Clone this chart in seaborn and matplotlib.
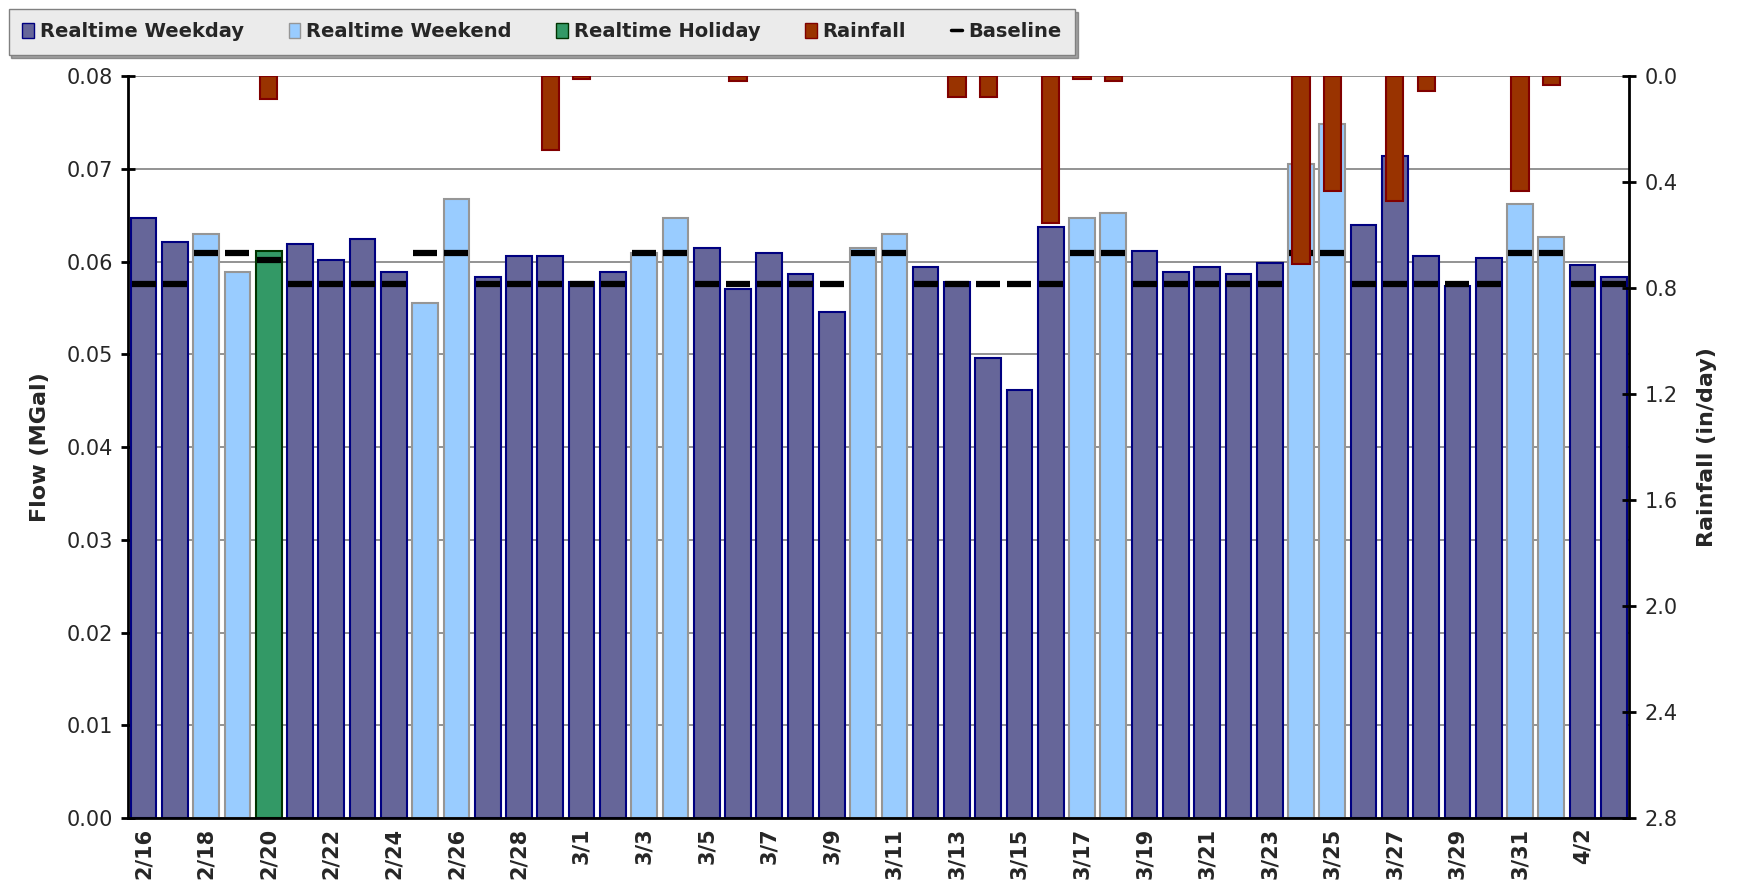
import matplotlib
matplotlib.use('Agg')
import matplotlib.pyplot as plt
import matplotlib.patches as mpatches
from matplotlib.lines import Line2D
import seaborn as sns
import numpy as np
import pandas as pd

# ---- data ----
dates = ['2/16', '2/17', '2/18', '2/19', '2/20', '2/21', '2/22', '2/23', '2/24',
         '2/25', '2/26', '2/27', '2/28', '2/29', '3/1', '3/2', '3/3', '3/4',
         '3/5', '3/6', '3/7', '3/8', '3/9', '3/10', '3/11', '3/12', '3/13',
         '3/14', '3/15', '3/16', '3/17', '3/18', '3/19', '3/20', '3/21', '3/22',
         '3/23', '3/24', '3/25', '3/26', '3/27', '3/28', '3/29', '3/30', '3/31',
         '4/1', '4/2', '4/3']

flow = [0.0647, 0.0621, 0.0630, 0.0589, 0.0611, 0.0619, 0.0602, 0.0624, 0.0589,
        0.0555, 0.0667, 0.0583, 0.0606, 0.0606, 0.0578, 0.0589, 0.0609, 0.0647,
        0.0615, 0.0570, 0.0609, 0.0587, 0.0546, 0.0615, 0.0630, 0.0594, 0.0578,
        0.0496, 0.0461, 0.0637, 0.0647, 0.0652, 0.0611, 0.0589, 0.0594, 0.0587,
        0.0598, 0.0705, 0.0748, 0.0639, 0.0714, 0.0606, 0.0574, 0.0604, 0.0662,
        0.0626, 0.0596, 0.0583]

day_type = ['Weekday', 'Weekday', 'Weekend', 'Weekend', 'Holiday', 'Weekday',
            'Weekday', 'Weekday', 'Weekday', 'Weekend', 'Weekend', 'Weekday',
            'Weekday', 'Weekday', 'Weekday', 'Weekday', 'Weekend', 'Weekend',
            'Weekday', 'Weekday', 'Weekday', 'Weekday', 'Weekday', 'Weekend',
            'Weekend', 'Weekday', 'Weekday', 'Weekday', 'Weekday', 'Weekday',
            'Weekend', 'Weekend', 'Weekday', 'Weekday', 'Weekday', 'Weekday',
            'Weekday', 'Weekend', 'Weekend', 'Weekday', 'Weekday', 'Weekday',
            'Weekday', 'Weekday', 'Weekend', 'Weekend', 'Weekday', 'Weekday']

rain = [0, 0, 0, 0, 0.087, 0, 0, 0, 0, 0, 0, 0, 0, 0.28, 0.01, 0, 0, 0,
        0, 0.018, 0, 0, 0, 0, 0, 0, 0.078, 0.078, 0, 0.555, 0.01, 0.018,
        0, 0, 0, 0, 0, 0.709, 0.433, 0, 0.47, 0.055, 0, 0, 0.433, 0.033, 0, 0]

baseline_level = {'Weekday': 0.0576, 'Weekend': 0.0609, 'Holiday': 0.0602}

STYLE = {'Weekday': ('#666699', '#000080'),
         'Weekend': ('#99CCFF', '#969696'),
         'Holiday': ('#339966', '#003300')}
RAIN_FILL, RAIN_EDGE = '#993300', '#800000'

df = pd.DataFrame({'date': dates, 'flow': flow, 'type': day_type, 'rain': rain})
df['baseline'] = df['type'].map(baseline_level)
pos = np.arange(len(df))

sns.set_style('white')
plt.rcParams['font.family'] = ['DejaVu Sans']

fig, ax = plt.subplots(figsize=(17.39, 8.85), dpi=100)
fig.subplots_adjust(left=0.0736, right=0.937, top=0.914, bottom=0.0757)

for t, (fc, ec) in STYLE.items():
    sub = df[df['type'] == t]
    sns.barplot(data=sub, x='date', y='flow', order=dates, color=fc,
                edgecolor=ec, linewidth=1.5, width=0.82, saturation=1, ax=ax)

# baseline dashes
ax.plot(pos, df['baseline'], ls='none', marker='_', ms=17, mew=4.5,
        color='black', zorder=4)

ax.set_ylim(0, 0.08)
ax.set_xlim(-0.5, len(dates) - 0.5)
ax.set_yticks(np.arange(0, 0.081, 0.01))
ax.set_yticklabels([f'{v:.2f}' for v in np.arange(0, 0.081, 0.01)], fontsize=15)
ax.set_axisbelow(True)
ax.yaxis.grid(True, color='#808080', linewidth=1.2)
ax.set_ylabel('Flow (MGal)', fontsize=16, fontweight='bold', labelpad=12)
ax.set_xlabel('')

ax.set_xticks(np.arange(-0.5, len(dates), 1), minor=True)
ax.tick_params(axis='x', which='major', length=0, pad=7)
ax.tick_params(axis='x', which='minor', length=7, width=1.5, direction='out',
               color='black')
ax.tick_params(axis='y', length=10, width=2, direction='inout', color='black',
               pad=6)
for s in ['top', 'right']:
    ax.spines[s].set_visible(False)
for s in ['left', 'bottom']:
    ax.spines[s].set_color('black')
    ax.spines[s].set_linewidth(2)

# rainfall on inverted secondary axis
ax2 = ax.twinx()
rain_df = df[df['rain'] > 0]
sns.barplot(data=rain_df, x='date', y='rain', order=dates, color=RAIN_FILL,
            edgecolor=RAIN_EDGE, linewidth=1.5, width=0.55, saturation=1, ax=ax2)
ax2.set_ylim(2.8, 0)
ax2.set_xlim(-0.5, len(dates) - 0.5)
ax2.set_yticks(np.arange(0, 2.81, 0.4))
ax2.set_yticklabels([f'{v:.1f}' for v in np.arange(0, 2.81, 0.4)], fontsize=15)
ax2.set_ylabel('Rainfall (in/day)', fontsize=16, fontweight='bold', labelpad=14)
ax2.set_xlabel('')
ax2.tick_params(axis='y', length=10, width=2, direction='inout', color='black',
                pad=6)
for s in ['top', 'left', 'bottom']:
    ax2.spines[s].set_visible(False)
ax2.spines['right'].set_color('black')
ax2.spines['right'].set_linewidth(2)
ax.set_xticks(pos[::2])
ax.set_xticklabels(dates[::2], rotation=90, fontsize=15, fontweight='bold')

handles = [mpatches.Patch(facecolor=STYLE['Weekday'][0], edgecolor=STYLE['Weekday'][1], label='Realtime Weekday'),
           mpatches.Patch(facecolor=STYLE['Weekend'][0], edgecolor=STYLE['Weekend'][1], label='Realtime Weekend'),
           mpatches.Patch(facecolor=STYLE['Holiday'][0], edgecolor=STYLE['Holiday'][1], label='Realtime Holiday'),
           mpatches.Patch(facecolor=RAIN_FILL, edgecolor=RAIN_EDGE, label='Rainfall'),
           Line2D([], [], color='black', lw=2.5, label='Baseline')]
leg = fig.legend(handles=handles, loc='upper left', bbox_to_anchor=(0.005, 0.99),
                 ncol=5, prop={'weight': 'bold', 'size': 14},
                 frameon=True, fancybox=False, shadow=True, handlelength=0.6,
                 handleheight=0.8, handletextpad=0.3, columnspacing=2.3,
                 borderpad=0.7, borderaxespad=0)
leg.get_frame().set_facecolor('#ebebeb')
leg.get_frame().set_edgecolor('#808080')

fig.savefig('out.png', dpi=100)
